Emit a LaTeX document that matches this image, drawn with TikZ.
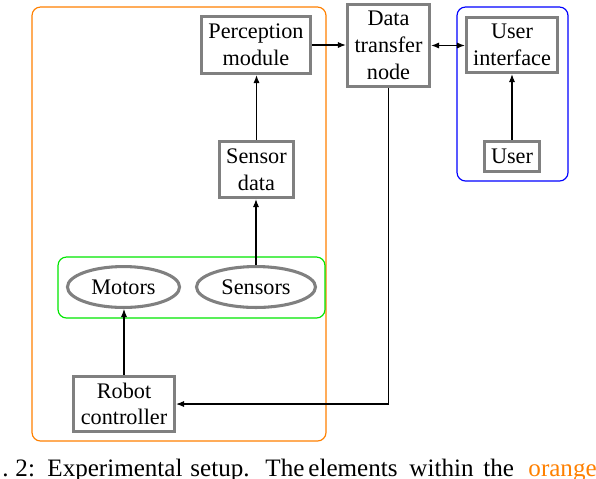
\documentclass[tikz,border=0pt]{standalone}
\usepackage{fontspec}
\setmainfont{Liberation Serif}
\usetikzlibrary{shapes.geometric,arrows.meta}
\definecolor{grpOrange}{RGB}{255,128,0}
\definecolor{grpBlue}{RGB}{0,0,255}
\definecolor{grpGreen}{RGB}{0,230,0}
\definecolor{brd}{RGB}{128,128,128}
\tikzset{
  blk/.style={draw=brd, line width=1.3pt, rectangle, inner sep=0.5pt, align=center,
    font=\fontsize{9.4}{11.3}\selectfont},
  ell/.style={draw=brd, line width=1.3pt, ellipse, inner sep=0pt,
    font=\fontsize{9.4}{11.3}\selectfont},
  conn/.style={-{Latex[length=3.4pt,width=2.6pt]}, line width=0.45pt},
  grp/.style={rounded corners=3.6pt, line width=0.5pt},
  captxt/.style={anchor=base west, inner sep=0pt, font=\fontsize{10.6}{12.7}\selectfont}
}
\begin{document}
\begin{tikzpicture}[x=0.4228pt,y=-0.4228pt]
\useasboundingbox (0,0) rectangle (596,478);
% groups
\draw[grp, draw=grpOrange] (32,7) rectangle (326,441);
\draw[grp, draw=grpBlue] (457,7) rectangle (568,181);
\draw[grp, draw=grpGreen] (58,257) rectangle (325,318);
% nodes
\node[blk, minimum width=46.1pt, minimum height=24.1pt] (pm) at (256,45) {Perception\\module};
\node[blk, minimum width=31.3pt, minimum height=23.7pt] (sd) at (256.5,169.5) {Sensor\\data};
\node[blk, minimum width=34.7pt, minimum height=34.7pt] (dtn) at (388.5,45.5) {Data\\transfer\\node};
\node[blk, minimum width=38.5pt, minimum height=23.3pt] (ui) at (512,45) {User\\interface};
\node[blk, minimum width=23.3pt, minimum height=12.7pt] (user) at (512,156.5) {User};
\node[ell, minimum width=47.4pt, minimum height=17.3pt] (mot) at (123.5,287) {Motors};
\node[ell, minimum width=50.3pt, minimum height=17.3pt] (sens) at (256,287) {Sensors};
\node[blk, minimum width=42.7pt, minimum height=23.3pt] (rc) at (124,404) {Robot\\controller};
% connectors
\draw[conn] (sens.north) -- (sens.north |- sd.south);
\draw[conn] (sd.north) -- (sd.north |- pm.south);
\draw[conn] (pm.east) -- (pm.east -| dtn.west);
\draw[conn, {Latex[length=3.4pt,width=2.6pt]}-{Latex[length=3.4pt,width=2.6pt]}] (dtn.east) -- (dtn.east -| ui.west);
\draw[conn] (user.north) -- (user.north |- ui.south);
\draw[conn] (rc.north) -- (rc.north |- mot.south);
\draw[conn] (dtn.south) |- (rc.east);
% caption (cut off)
\node[captxt] (c1) at (2,476) {.};
\node[captxt] (c2) at (15,476) {2:};
\node[captxt] (c3) at (47,476) {Experimental};
\node[captxt] (c4) at (190,476) {setup.};
\node[captxt] (c5) at (265,476) {The};
\node[captxt] (c6) at (308,476) {elements};
\node[captxt] (c7) at (409,476) {within};
\node[captxt] (c8) at (483,476) {the};
\node[captxt, text=grpOrange] (c9) at (528,476) {orange};
\end{tikzpicture}
\end{document}
